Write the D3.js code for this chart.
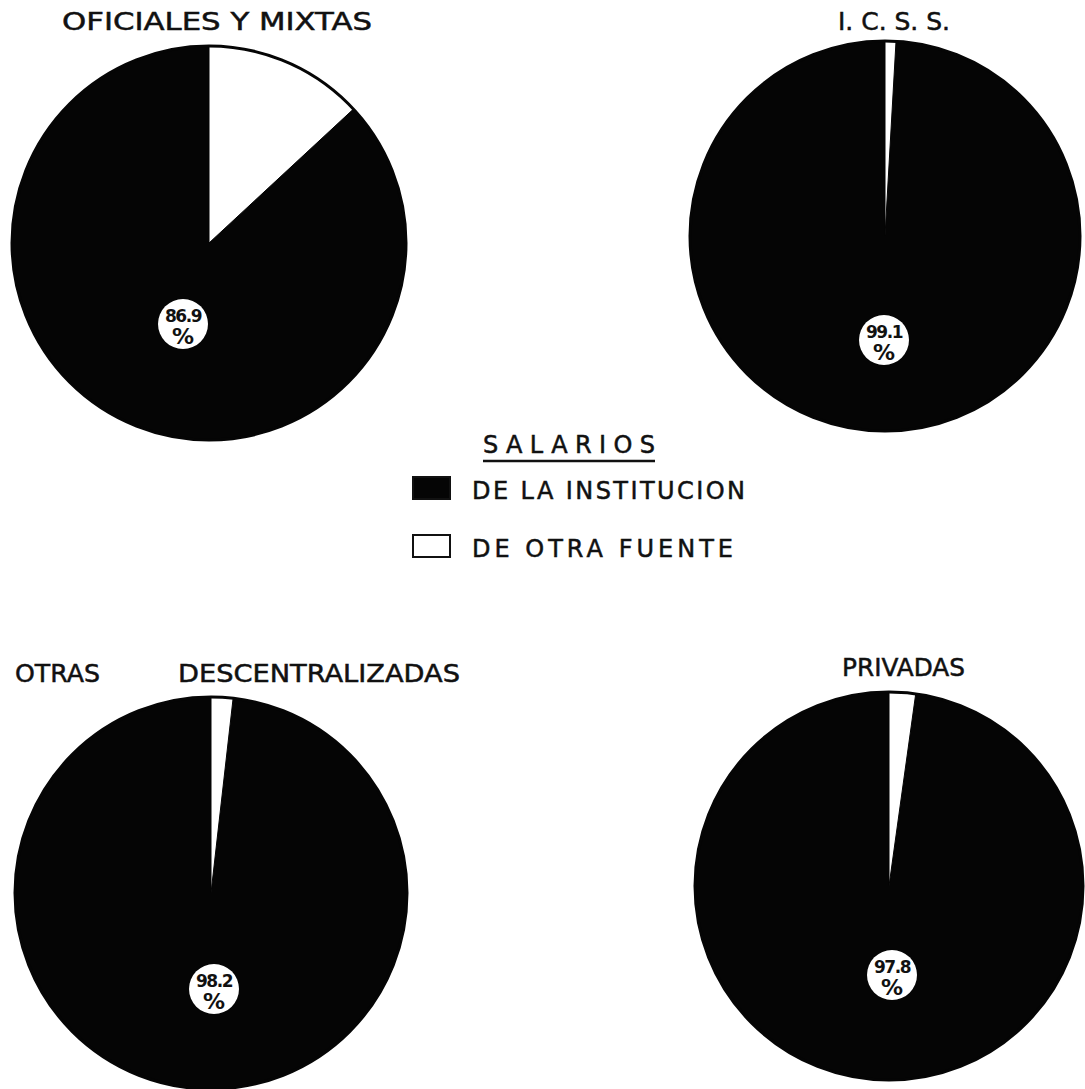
<!DOCTYPE html>
<html lang="es">
<head>
  <meta charset="UTF-8">
  <title>Salarios por tipo de institucion</title>
  <script src="https://d3js.org/d3.v7.min.js"></script>
  <style>
    body { margin: 0; background: #fff; }
    svg text { font-family: "DejaVu Sans", "Liberation Sans", Arial, sans-serif; fill: #111; }
    .tit { stroke: #111; stroke-width: 0.5; }
  </style>
</head>
<body>
  <div id="chart"></div>

  <script>
    // datos
    const categorias = ["OFICIALES Y MIXTAS", "I. C. S. S.", "OTRAS  DESCENTRALIZADAS", "PRIVADAS"];
    const deLaInstitucion = [86.9, 99.1, 98.2, 97.8];
    const deOtraFuente = [13.1, 0.9, 1.8, 2.2];
    const leyendaTitulo = "SALARIOS";
    const leyendaItems = ["DE LA INSTITUCION", "DE OTRA FUENTE"];

    const width = 1085, height = 1089;

    // posiciones de cada torta (centro, radio) y de sus titulos
    const layout = [
      { cx: 209, cy: 243, r: 197, lx: 183, ly: 324, title: [[62, 372]], ty: 30 },
      { cx: 885, cy: 236, r: 195, lx: 884, ly: 340, title: [[838, 950]], ty: 30 },
      { cx: 211, cy: 893, r: 196, lx: 214, ly: 989, title: [[15, 100], [178, 460]], ty: 682 },
      { cx: 889, cy: 886, r: 194, lx: 892, ly: 975, title: [[842, 965]], ty: 676 }
    ];

    const svg = d3.select('#chart')
      .append('svg')
      .attr('width', width)
      .attr('height', height);

    const pie = d3.pie().sort(null).value(d => d.v);
    const color = d3.scaleOrdinal()
      .domain(["otra", "inst"])
      .range(["#ffffff", "#050505"]);

    categorias.forEach((cat, i) => {
      const L = layout[i];
      const g = svg.append('g').attr('transform', `translate(${L.cx},${L.cy})`);
      const arc = d3.arc().innerRadius(0).outerRadius(L.r);

      const slices = pie([
        { k: "otra", v: deOtraFuente[i] },
        { k: "inst", v: deLaInstitucion[i] }
      ]);

      g.selectAll('path')
        .data(slices)
        .enter()
        .append('path')
        .attr('d', arc)
        .attr('fill', d => color(d.data.k))
        .attr('stroke', d => d.data.k === "otra" ? "none" : "#050505")
        .attr('stroke-width', 1);

      // borde del circulo
      g.append('circle')
        .attr('r', L.r)
        .attr('fill', 'none')
        .attr('stroke', '#050505')
        .attr('stroke-width', 3);

      // etiqueta de porcentaje
      const lab = svg.append('g').attr('transform', `translate(${L.lx},${L.ly})`);
      lab.append('circle').attr('r', 25).attr('fill', '#fff');
      lab.append('text')
        .attr('text-anchor', 'middle')
        .attr('y', -2)
        .attr('font-size', 17)
        .attr('font-weight', 'bold')
        .attr('letter-spacing', -1.5)
        .text(deLaInstitucion[i].toFixed(1));
      lab.append('text')
        .attr('text-anchor', 'middle')
        .attr('y', 20)
        .attr('font-size', 22)
        .attr('font-weight', 'bold')
        .text('%');

      // titulo (puede tener dos bloques de palabras)
      const words = cat.split(/\s{2,}/);
      words.forEach((w, j) => {
        const [x0, x1] = L.title[j];
        svg.append('text')
          .attr('class', 'tit')
          .attr('x', x0)
          .attr('y', L.ty)
          .attr('font-size', 24)
          .attr('textLength', x1 - x0)
          .attr('lengthAdjust', 'spacingAndGlyphs')
          .text(w);
      });
    });

    // leyenda
    const leg = svg.append('g');
    leg.append('text')
      .attr('class', 'tit')
      .attr('x', 483).attr('y', 453)
      .attr('font-size', 24)
      .attr('textLength', 172)
      .attr('lengthAdjust', 'spacing')
      .text(leyendaTitulo);
    leg.append('line')
      .attr('x1', 483).attr('x2', 655)
      .attr('y1', 461).attr('y2', 461)
      .attr('stroke', '#111').attr('stroke-width', 2.5);

    const itemY = [477, 535];
    const itemEnd = [745, 733];
    leyendaItems.forEach((t, j) => {
      leg.append('rect')
        .attr('x', 413).attr('y', itemY[j])
        .attr('width', 37).attr('height', 22)
        .attr('fill', color(j === 0 ? "inst" : "otra"))
        .attr('stroke', '#111').attr('stroke-width', 2);
      leg.append('text')
        .attr('class', 'tit')
        .attr('x', 472).attr('y', itemY[j] + 22)
        .attr('font-size', 24)
        .attr('textLength', itemEnd[j] - 472)
        .attr('lengthAdjust', 'spacing')
        .text(t);
    });
  </script>
</body>
</html>
